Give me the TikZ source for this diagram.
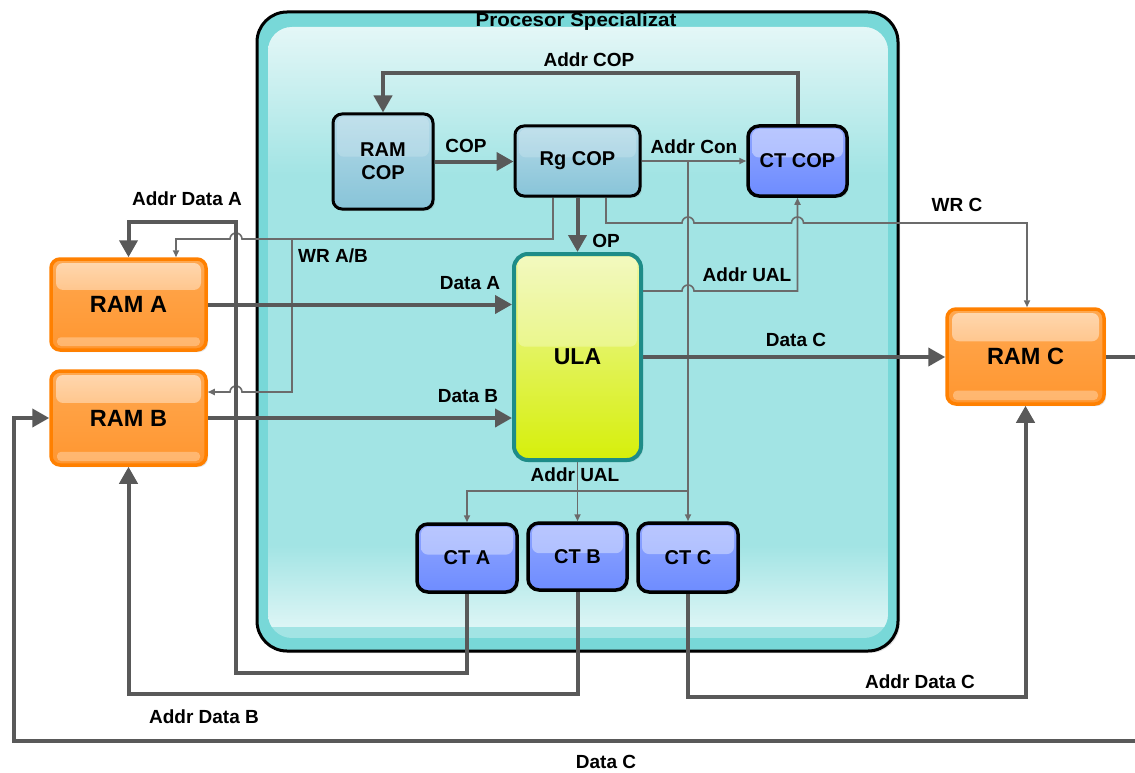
\documentclass[tikz,border=0pt]{standalone}
\usepackage{fontspec}
\setmainfont{Liberation Sans}
\usepackage{graphicx}
\usetikzlibrary{arrows.meta,calc,shadows}
\pgfdeclarelayer{back}
\pgfdeclarelayer{conn}
\pgfsetlayers{back,conn,main}
\definecolor{ln}{HTML}{595959}
\definecolor{thn}{HTML}{6B6B6B}
\definecolor{pedge}{HTML}{78D8D8}
\definecolor{pmid}{HTML}{A2E4E4}
\definecolor{ptop}{HTML}{E4F7F7}
\definecolor{pbot}{HTML}{DCF5F5}
\definecolor{orgb}{HTML}{FF8000}
\definecolor{org1}{HTML}{FFA850}
\definecolor{org2}{HTML}{FF9630}
\definecolor{blu1}{HTML}{90A6FF}
\definecolor{blu2}{HTML}{6E8CFF}
\definecolor{cop1}{HTML}{B4DAE8}
\definecolor{cop2}{HTML}{88C4D8}
\definecolor{ula1}{HTML}{EEF7A8}
\definecolor{ula2}{HTML}{D6EF0A}
\definecolor{ulab}{HTML}{1E8C88}
\begin{document}
\begin{tikzpicture}[x=1pt,y=-1pt,
  bus/.style={draw=ln,line width=4pt,-{Triangle[length=17pt,width=18pt]}},
  ctl/.style={draw=thn,line width=1.6pt,-{Triangle[length=7pt,width=6pt]}},
  lbl/.style={font=\fontsize{19}{19}\selectfont\bfseries,inner sep=0pt},
  boxfont/.style={font=\fontsize{20}{23}\selectfont\bfseries,align=center},
  gloss/.style={path picture={
     \shade[top color=white,bottom color=white,opacity=#1,rounded corners=7pt]
       ($(path picture bounding box.north west)+(4,3)$) rectangle
       ($(path picture bounding box.north east)!0.45!(path picture bounding box.south east)+(-4,0)$);}},
  glossorg/.style={path picture={
     \shade[top color=white!70!org1,bottom color=org1,opacity=0.8,rounded corners=7pt]
       ($(path picture bounding box.north west)+(5,4)$) rectangle
       ($(path picture bounding box.north east)!0.34!(path picture bounding box.south east)+(-5,0)$);
     \fill[white,opacity=0.3,rounded corners=4pt]
       ($(path picture bounding box.south west)+(6,-4)$) rectangle
       ($(path picture bounding box.south east)!0.14!(path picture bounding box.north east)+(-6,0)$);}},
  shd/.style={drop shadow={shadow xshift=2pt,shadow yshift=-2pt,opacity=0.22}},
  rambox/.style={draw=orgb,line width=3.5pt,rounded corners=9pt,top color=org1,bottom color=org2,glossorg,boxfont,font=\fontsize{23.5}{26}\selectfont\bfseries,shd},
  ctbox/.style={draw=black,line width=3.5pt,rounded corners=11pt,top color=blu1,bottom color=blu2,gloss=0.38,boxfont,shd},
  copbox/.style={draw=black,line width=3pt,rounded corners=9pt,top color=cop1,bottom color=cop2,gloss=0.18,boxfont,shd},
  ulabox/.style={draw=ulab,line width=4pt,rounded corners=14pt,top color=ula1,bottom color=ula2,gloss=0.28,boxfont,font=\fontsize{23}{26}\selectfont\bfseries,shd}
]
\useasboundingbox (0,0) rectangle (1135,773);
\clip (0,0) rectangle (1135,773);

\begin{pgfonlayer}{back}
\fill[white] (0,0) rectangle (1135,773);
% processor box
\draw[line width=3pt,rounded corners=30pt,fill=pedge,shd] (257,12) rectangle (898,651);
\begin{scope}
  \clip[rounded corners=24pt] (268,27) rectangle (888,638);
  \fill[pmid] (268,27) rectangle (888,638);
  \shade[top color=ptop,bottom color=pmid] (268,27) rectangle (888,175);
  \shade[top color=pmid,bottom color=pbot] (268,545) rectangle (888,626);
\end{scope}
\end{pgfonlayer}
\node[lbl] (title) at (576,22) {\scalebox{1.08}[1]{Procesor Specializat}};

% blocks
\path
  (383,161.5) node[copbox,minimum width=100pt,minimum height=95pt] (ramcop) {RAM\\COP}
  (577.5,161) node[copbox,minimum width=125pt,minimum height=70pt] (rgcop) {Rg COP}
  (797.5,161) node[ctbox,minimum width=99pt,minimum height=70pt] (ctcop) {CT COP}
  (577.5,357) node[ulabox,minimum width=127pt,minimum height=206pt] (ula) {ULA}
  (467,558) node[ctbox,minimum width=100pt,minimum height=68pt] (cta) {CT A}
  (577.5,556.5) node[ctbox,minimum width=99pt,minimum height=67pt] (ctb) {CT B}
  (688,557.5) node[ctbox,minimum width=100pt,minimum height=69pt] (ctc) {CT C}
  (128.5,304.5) node[rambox,minimum width=155pt,minimum height=91pt] (rama) {RAM A}
  (128.5,418) node[rambox,minimum width=155pt,minimum height=94pt] (ramb) {RAM B}
  (1025.5,356.5) node[rambox,minimum width=157pt,minimum height=95pt] (ramc) {RAM C};

\begin{pgfonlayer}{conn}
% control (thin) connectors
\coordinate (acon) at (rgcop.east -| 688,0);
\draw[ctl] (rgcop.east) -- (ctcop.west);
\draw[ctl] (acon) -- (ctc.north);
\draw[ctl] (acon |- 0,491) -| (cta.north);
\draw[ctl] (ula.south) -- (ctb.north);
\draw[ctl] (ula.east |- 0,291) -- (682,291) arc[start angle=180,end angle=360,radius=6]
   -- (ctcop.south |- 0,291) -- (ctcop.south);
\draw[ctl] (rgcop.south -| 553,0) -- (553,239) -- (242,239)
   arc[start angle=0,end angle=-180,radius=6] -- (176,239) -- (rama.north -| 176,0);
\coordinate (wrab) at (292,239);
\draw[ctl] (wrab) -- (292,392) -- (242,392)
   arc[start angle=0,end angle=-180,radius=6] -- (ramb.east |- 0,392);
\draw[ctl] (rgcop.south -| 606,0) -- (606,223) -- (682,223)
   arc[start angle=180,end angle=360,radius=6] -- (791.5,223)
   arc[start angle=180,end angle=360,radius=6] -- (1027,223) -- (ramc.north -| 1027,0);

% bus (thick) connectors
\draw[bus] (rama.east) -- (rama.east -| ula.west);
\draw[bus] (ramb.east) -- (ramb.east -| ula.west);
\draw[bus] (ula.east) -- (ula.east -| ramc.west);
\draw[bus] (ramcop.east) -- (ramcop.east -| rgcop.west);
\draw[bus] (rgcop.south) -- (ula.north);
\draw[bus] (ctcop.north) -- ++(0,-51) -| (ramcop.north);
\draw[bus] (cta.south) |- (236,673) -- (236,222) -| (rama.north);
\draw[bus] (ctb.south) -- (ctb.south |- 0,694) -| (ramb.south);
\draw[bus] (ctc.south) -- (ctc.south |- 0,697) -| (ramc.south);
\draw[bus] (ramc.east) -- (1150,356.5) -- (1150,741) -- (14,741) |- (ramb.west);
\end{pgfonlayer}

% labels
\node[lbl] (lAddrCOP) at (589,60) {Addr COP};
\node[lbl] (lCOP) at (466,146) {COP};
\node[lbl] (lAddrCon) at (694,147) {Addr Con};
\node[lbl] (lAddrDA) at (187,199) {Addr Data A};
\node[lbl] (lWRAB) at (333,256) {WR A/B};
\node[lbl] (lOP) at (606,241) {OP};
\node[lbl] (lDataA) at (470,283) {Data A};
\node[lbl] (lAddrUAL1) at (747,275) {Addr UAL};
\node[lbl] (lWRC) at (957,205) {WR C};
\node[lbl] (lDataC1) at (796,340) {Data C};
\node[lbl] (lDataB) at (468,396) {Data B};
\node[lbl] (lAddrUAL2) at (575,475) {Addr UAL};
\node[lbl] (lAddrDC) at (920,682) {Addr Data C};
\node[lbl] (lAddrDB) at (204,717) {Addr Data B};
\node[lbl] (lDataC2) at (606,762) {Data C};
\end{tikzpicture}
\end{document}
